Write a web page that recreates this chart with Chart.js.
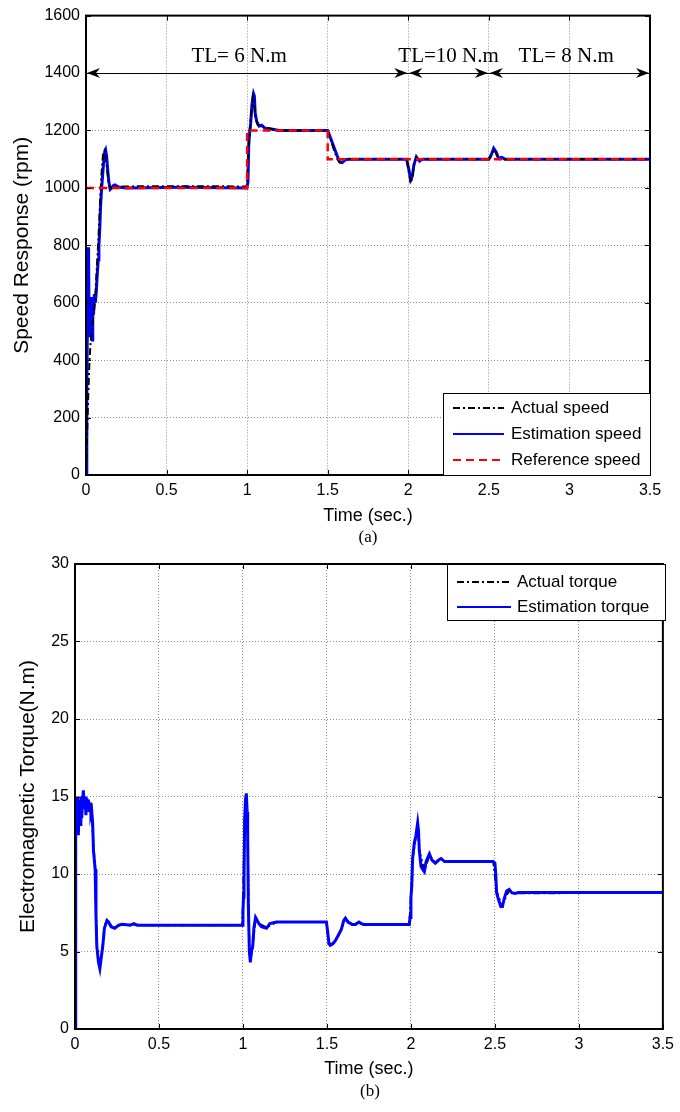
<!DOCTYPE html>
<html>
<head>
<meta charset="utf-8">
<script src="https://cdn.jsdelivr.net/npm/chart.js@4.4.0/dist/chart.umd.min.js"></script>
<style>
  body { margin: 0; background: #fff; }
  #page { position: relative; width: 680px; height: 1112px; overflow: hidden; }
  .panel { position: absolute; left: 0; }
  .cap {
    position: absolute; width: 100px; text-align: center;
    font-family: 'Liberation Serif', 'Times New Roman', serif; font-size: 17px;
    line-height: 20px; color: #000;
  }
</style>
</head>
<body>
<div id="page">
  <canvas id="chart-speed" class="panel" width="680" height="545" style="top:0"></canvas>
  <div class="cap" style="left:318px; top:527px;">(a)</div>
  <canvas id="chart-torque" class="panel" width="680" height="567" style="top:545px"></canvas>
  <div class="cap" style="left:320px; top:1081px;">(b)</div>
</div>
<script>
// ---- speed response, [time s, rpm] ----
const actualSpeed = [
  [0, 0], [0.005, 100], [0.01, 200], [0.014, 280], [0.018, 340], [0.022, 400], [0.029, 466],
  [0.035, 500], [0.045, 550], [0.056, 603], [0.065, 700], [0.076, 810], [0.087, 948], [0.095, 1040],
  [0.106, 1120], [0.114, 1130], [0.12, 1115], [0.13, 1070], [0.14, 1020], [0.15, 1000], [0.2, 1005],
  [0.6, 1006], [0.998, 1005], [1.005, 1100], [1.015, 1200], [1.025, 1260], [1.035, 1320], [1.042, 1310],
  [1.05, 1250], [1.065, 1220], [1.09, 1215], [1.15, 1205], [1.2, 1200], [1.5, 1200], [1.52, 1165],
  [1.54, 1130], [1.56, 1100], [1.575, 1088], [1.59, 1090], [1.61, 1100], [1.99, 1100], [2.005, 1050],
  [2.015, 1017], [2.025, 1035], [2.035, 1080], [2.05, 1105], [2.06, 1100], [2.07, 1095], [2.09, 1100],
  [2.5, 1100], [2.515, 1112], [2.53, 1135], [2.545, 1120], [2.56, 1100], [3.5, 1100]
];
const estimatedSpeed = [
  [0, 0], [0.005, 300], [0.01, 600], [0.013, 793], [0.016, 760], [0.019, 540], [0.022, 480],
  [0.026, 600], [0.03, 500], [0.034, 620], [0.038, 470], [0.042, 590], [0.047, 560], [0.052, 630],
  [0.058, 600], [0.064, 640], [0.07, 700], [0.076, 750], [0.08, 800], [0.085, 850], [0.09, 930],
  [0.095, 980], [0.1, 1020], [0.108, 1080], [0.115, 1120], [0.122, 1131], [0.128, 1110], [0.135, 1060],
  [0.142, 1020], [0.15, 995], [0.16, 1000], [0.17, 1008], [0.18, 1010], [0.2, 1003], [0.25, 1000],
  [0.6, 1002], [0.998, 1000], [1.005, 1020], [1.01, 1150], [1.015, 1190], [1.02, 1210], [1.03, 1290],
  [1.04, 1328], [1.045, 1320], [1.05, 1260], [1.06, 1230], [1.075, 1215], [1.09, 1218], [1.11, 1208],
  [1.15, 1205], [1.2, 1200], [1.5, 1200], [1.52, 1170], [1.54, 1140], [1.56, 1110], [1.575, 1090],
  [1.59, 1088], [1.61, 1098], [1.63, 1100], [1.99, 1100], [2.005, 1060], [2.015, 1028], [2.025, 1040],
  [2.035, 1080], [2.05, 1108], [2.06, 1100], [2.07, 1093], [2.085, 1100], [2.5, 1100], [2.515, 1115],
  [2.53, 1138], [2.545, 1125], [2.56, 1103], [2.58, 1106], [2.6, 1100], [3.5, 1100]
];
const referenceSpeed = [[0, 1000], [1, 1000], [1, 1200], [1.5, 1200], [1.5, 1100], [3.5, 1100]];

// ---- electromagnetic torque, [time s, N.m] ----
const actualTorque = [
  [0, 0], [0.004, 0], [0.006, 14.5], [0.012, 13.5], [0.02, 14.5], [0.03, 14], [0.04, 14.8], [0.05, 15.2],
  [0.06, 14.8], [0.07, 14.5], [0.08, 14.6], [0.09, 14.3], [0.1, 14], [0.11, 11.8], [0.12, 10.5],
  [0.125, 7.5], [0.13, 5.5], [0.14, 4.4], [0.148, 4], [0.155, 4.5], [0.165, 5.4], [0.175, 6.6],
  [0.19, 7.0], [0.2, 6.9], [0.22, 6.6], [0.24, 6.55], [0.28, 6.75], [0.4, 6.7], [0.995, 6.7],
  [1.0, 8], [1.01, 13.3], [1.02, 15], [1.028, 12.5], [1.035, 6.5], [1.044, 4.4], [1.058, 5.4],
  [1.075, 7.1], [1.095, 6.8], [1.14, 6.55], [1.2, 6.9], [1.497, 6.9], [1.51, 5.5], [1.535, 5.5],
  [1.57, 6.1], [1.61, 7.1], [1.65, 6.75], [1.69, 6.85], [1.72, 6.75], [1.99, 6.75], [2.0, 8.5],
  [2.01, 11], [2.04, 13.2], [2.05, 11.5], [2.08, 10.2], [2.11, 11.2], [2.145, 10.7], [2.18, 10.95],
  [2.22, 10.8], [2.49, 10.8], [2.51, 8.9], [2.54, 7.95], [2.585, 8.95], [2.62, 8.75], [3.5, 8.8]
];
const estimatedTorque = [
  [0, 0], [0.003, 0], [0.005, 14], [0.01, 13], [0.015, 15], [0.02, 12.5], [0.025, 14.8], [0.03, 13.2],
  [0.035, 15], [0.04, 13.6], [0.045, 14.8], [0.05, 15.4], [0.055, 14.2], [0.06, 15], [0.065, 13.8],
  [0.07, 14.9], [0.075, 14.2], [0.08, 14.8], [0.085, 14], [0.09, 14.6], [0.095, 13.8], [0.1, 14],
  [0.105, 13.3], [0.11, 11.5], [0.12, 10.3], [0.125, 7.3], [0.13, 5.3], [0.14, 4.3], [0.148, 3.9],
  [0.155, 4.5], [0.165, 5.3], [0.175, 6.5], [0.19, 7.0], [0.2, 6.9], [0.215, 6.6], [0.237, 6.5],
  [0.26, 6.7], [0.28, 6.75], [0.33, 6.7], [0.35, 6.8], [0.37, 6.7], [0.995, 6.7], [1.0, 7.5],
  [1.003, 8.5], [1.006, 9.5], [1.01, 13.5], [1.015, 14.8], [1.02, 15.2], [1.025, 14], [1.028, 12.5],
  [1.032, 8], [1.038, 5], [1.044, 4.3], [1.05, 5], [1.058, 5.3], [1.065, 6.5], [1.075, 7.2],
  [1.085, 7], [1.095, 6.8], [1.11, 6.6], [1.14, 6.5], [1.16, 6.8], [1.2, 6.9], [1.497, 6.9],
  [1.505, 6.2], [1.512, 5.5], [1.52, 5.4], [1.535, 5.5], [1.55, 5.7], [1.57, 6.1], [1.585, 6.4],
  [1.6, 7.0], [1.61, 7.15], [1.625, 6.9], [1.65, 6.75], [1.67, 6.75], [1.69, 6.9], [1.705, 6.8],
  [1.72, 6.75], [1.99, 6.75], [1.995, 7.2], [2.0, 8.5], [2.005, 9.2], [2.01, 11], [2.02, 12],
  [2.03, 12.5], [2.04, 13.3], [2.045, 12.8], [2.05, 11.5], [2.06, 10.5], [2.07, 10.3], [2.08, 10.15],
  [2.09, 10.8], [2.11, 11.3], [2.125, 10.9], [2.145, 10.7], [2.165, 10.9], [2.18, 11.0], [2.2, 10.8],
  [2.49, 10.8], [2.5, 10.7], [2.505, 10.0], [2.51, 8.8], [2.52, 8.4], [2.535, 7.9], [2.545, 7.9],
  [2.555, 8.4], [2.57, 8.9], [2.585, 9.0], [2.6, 8.8], [2.62, 8.75], [2.64, 8.8], [3.5, 8.8]
];

// load torque steps drawn as arrows across the speed plot
const loadSpans = [[0, 2], [2, 2.5], [2.5, 3.5]];
const loadLabels = ['TL= 6 N.m', 'TL=10 N.m', 'TL= 8 N.m'];
const loadLabelTime = [0.95, 2.25, 2.98];
const loadArrowLevel = 1400;
const loadLabelLevel = 1458;

const SANS = "'Liberation Sans', Arial, sans-serif";
const SERIF = "'Liberation Serif', 'Times New Roman', serif";
const DASH_DOT = [7, 3, 2, 3];

Chart.defaults.font.family = SANS;
Chart.defaults.color = '#000';

const toPoints = (rows) => rows.map(([x, y]) => ({ x, y }));

/** 박스 테두리 + 안쪽 눈금 */
const boxPlugin = {
  id: 'boxFrame',
  afterDatasetsDraw(chart) {
    const { ctx, chartArea: a, scales: { x, y } } = chart;
    ctx.save();
    ctx.strokeStyle = '#000';
    ctx.lineWidth = 1;
    ctx.beginPath();
    x.ticks.forEach((t) => {
      const px = Math.round(x.getPixelForValue(t.value)) + 0.5;
      ctx.moveTo(px, a.bottom); ctx.lineTo(px, a.bottom - 5);
      ctx.moveTo(px, a.top); ctx.lineTo(px, a.top + 5);
    });
    y.ticks.forEach((t) => {
      const py = Math.round(y.getPixelForValue(t.value)) + 0.5;
      ctx.moveTo(a.left, py); ctx.lineTo(a.left + 5, py);
      ctx.moveTo(a.right, py); ctx.lineTo(a.right - 5, py);
    });
    ctx.stroke();
    ctx.lineWidth = 2;
    ctx.strokeRect(a.left, a.top, a.right - a.left, a.bottom - a.top);
    ctx.restore();
  },
};

/** 범례 박스 (플롯 안쪽) */
const boxLegendPlugin = {
  id: 'boxLegend',
  afterDraw(chart, args, opts) {
    if (!opts || !opts.rows) return;
    const { ctx } = chart;
    ctx.save();
    ctx.fillStyle = '#fff';
    ctx.fillRect(opts.x, opts.y, opts.w, opts.h);
    ctx.strokeStyle = '#000';
    ctx.lineWidth = 1;
    ctx.strokeRect(opts.x + 0.5, opts.y + 0.5, opts.w, opts.h);
    ctx.font = `17px ${SANS}`;
    ctx.textBaseline = 'middle';
    chart.data.datasets.forEach((ds, i) => {
      const ry = opts.rows[i];
      ctx.strokeStyle = ds.borderColor;
      ctx.lineWidth = 2;
      ctx.setLineDash(ds.borderDash || []);
      ctx.beginPath();
      ctx.moveTo(opts.lineFrom, ry);
      ctx.lineTo(opts.lineTo, ry);
      ctx.stroke();
      ctx.setLineDash([]);
      ctx.fillStyle = '#000';
      ctx.fillText(ds.label, opts.textX, ry);
    });
    ctx.restore();
  },
};

/** 부하 토크 구간 화살표 */
const loadArrowPlugin = {
  id: 'loadArrows',
  afterDatasetsDraw(chart) {
    const { ctx, scales: { x, y } } = chart;
    const ay = y.getPixelForValue(loadArrowLevel);
    const head = (tipX, dir) => {
      ctx.beginPath();
      ctx.moveTo(tipX, ay);
      ctx.lineTo(tipX + dir * 13, ay - 5);
      ctx.lineTo(tipX + dir * 9, ay);
      ctx.lineTo(tipX + dir * 13, ay + 5);
      ctx.closePath();
      ctx.fill();
    };
    ctx.save();
    ctx.strokeStyle = '#000';
    ctx.fillStyle = '#000';
    ctx.lineWidth = 1;
    loadSpans.forEach(([t0, t1]) => {
      const x0 = x.getPixelForValue(t0);
      const x1 = x.getPixelForValue(t1);
      ctx.beginPath();
      ctx.moveTo(x0, ay + 0.5);
      ctx.lineTo(x1, ay + 0.5);
      ctx.stroke();
      head(x0 + 1, 1);
      head(x1 - 1, -1);
    });
    ctx.font = `21px ${SERIF}`;
    ctx.textAlign = 'center';
    ctx.textBaseline = 'middle';
    loadLabels.forEach((txt, i) => {
      ctx.fillText(txt, x.getPixelForValue(loadLabelTime[i]), y.getPixelForValue(loadLabelLevel));
    });
    ctx.restore();
  },
};

/** 공통 축 옵션 */
function axisOptions({ min, max, step, title, titleSize, titlePad, fit }) {
  return {
    type: 'linear',
    min, max,
    ticks: {
      stepSize: step, font: { size: 16 }, color: '#000', padding: 6,
      callback: (v) => String(v),
    },
    grid: { color: '#8c8c8c', lineWidth: 1, drawTicks: false },
    border: { display: false, dash: [1, 2] },
    title: { display: true, text: title, font: { size: titleSize }, color: '#000', padding: titlePad },
    afterFit: fit,
  };
}

function makeChart(id, datasets, { yMin, yMax, yStep, yTitle, yWidth, yTitlePad, xHeight, padding, legend, extra }) {
  return new Chart(document.getElementById(id), {
    type: 'line',
    data: { datasets },
    options: {
      responsive: false,
      animation: false,
      events: [],
      layout: { padding },
      elements: { point: { radius: 0 }, line: { tension: 0 } },
      scales: {
        x: axisOptions({
          min: 0, max: 3.5, step: 0.5, title: 'Time (sec.)', titleSize: 18,
          titlePad: { top: 0, bottom: 0 }, fit: (s) => { s.height = xHeight; },
        }),
        y: axisOptions({
          min: yMin, max: yMax, step: yStep, title: yTitle, titleSize: 21,
          titlePad: yTitlePad, fit: (s) => { s.width = yWidth; },
        }),
      },
      plugins: {
        legend: { display: false },
        tooltip: { enabled: false },
        boxLegend: legend,
      },
    },
    plugins: [boxPlugin, ...(extra || []), boxLegendPlugin],
  });
}

makeChart('chart-speed', [
  {
    label: 'Actual speed', data: toPoints(actualSpeed), borderColor: '#000000',
    borderWidth: 2, borderDash: DASH_DOT, order: 1,
  },
  {
    label: 'Estimation speed', data: toPoints(estimatedSpeed), borderColor: '#0000ff',
    borderWidth: 3, order: 2,
  },
  {
    label: 'Reference speed', data: toPoints(referenceSpeed), borderColor: '#ff0000',
    borderWidth: 2.5, borderDash: [8, 5], order: 0,
  },
], {
  yMin: 0, yMax: 1600, yStep: 200, yTitle: 'Speed Response (rpm)', yWidth: 86,
  yTitlePad: { top: 10, bottom: 0 }, xHeight: 52,
  padding: { top: 13, right: 30, bottom: 18, left: 0 },
  legend: { x: 443, y: 393, w: 207, h: 82, rows: [408, 434, 460], lineFrom: 453, lineTo: 504, textX: 511 },
  extra: [loadArrowPlugin],
});

makeChart('chart-torque', [
  {
    label: 'Actual torque', data: toPoints(actualTorque), borderColor: '#000000',
    borderWidth: 2, borderDash: DASH_DOT, order: 1,
  },
  {
    label: 'Estimation torque', data: toPoints(estimatedTorque), borderColor: '#0000ff',
    borderWidth: 3, order: 0,
  },
], {
  yMin: 0, yMax: 30, yStep: 5, yTitle: 'Electromagnetic Torque(N.m)', yWidth: 75,
  yTitlePad: { top: 16, bottom: 0 }, xHeight: 51,
  padding: { top: 19, right: 15, bottom: 32, left: 0 },
  legend: { x: 447, y: 19, w: 218, h: 56, rows: [37, 62], lineFrom: 457, lineTo: 511, textX: 517 },
});
</script>
</body>
</html>
